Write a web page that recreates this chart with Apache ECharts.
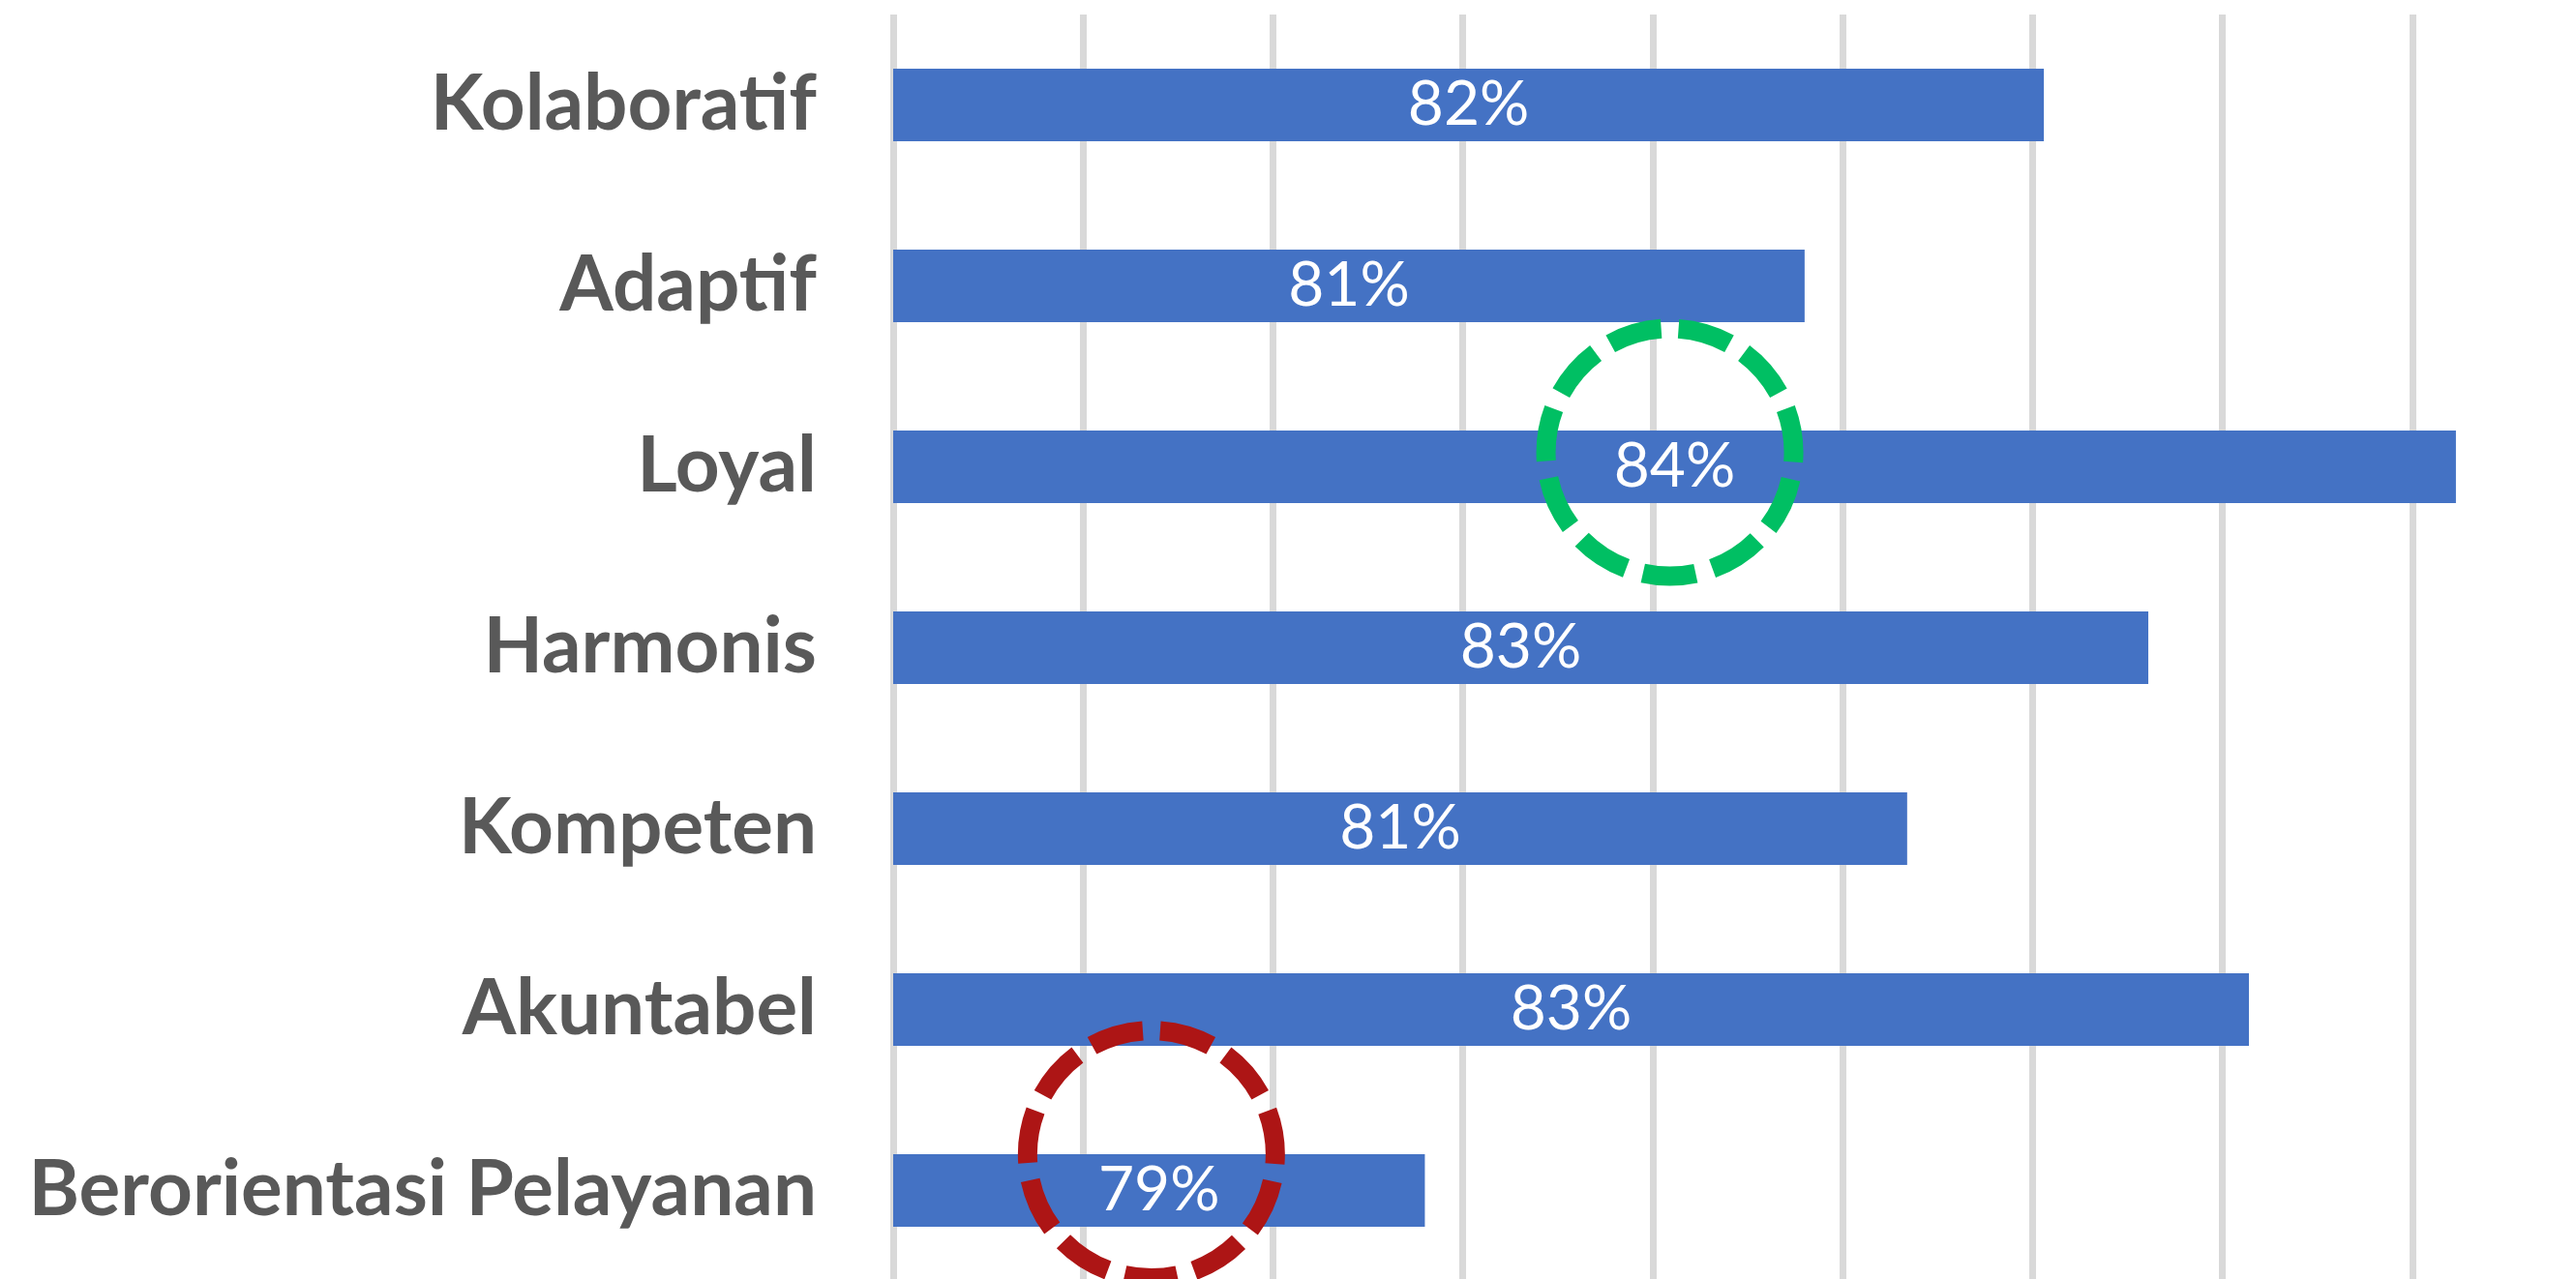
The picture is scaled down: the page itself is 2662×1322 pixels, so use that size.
<!DOCTYPE html>
<html>
<head>
<meta charset="utf-8">
<script src="https://cdn.jsdelivr.net/npm/echarts@6/dist/echarts.min.js"></script>
<style>
    html, body { margin: 0; padding: 0; background: #ffffff; }
    #chart { width: 2662px; height: 1322px; }
</style>
</head>
<body>
<div id="chart"></div>
<script>
// data (top to bottom)
var categories = ['Kolaboratif', 'Adaptif', 'Loyal', 'Harmonis', 'Kompeten', 'Akuntabel', 'Berorientasi Pelayanan'];
var values = [82.06, 80.80, 84.23, 82.61, 81.34, 83.14, 78.80];
var axisMin = 76;
var axisMax = 85;
var axisStep = 1;

// dashed circles drawn over the chart (value on x, category, shift in bands)
var marks = [
    { category: 'Loyal', x: 80.09, shift: -0.08, color: '#00BF63' },
    { category: 'Berorientasi Pelayanan', x: 77.36, shift: -0.2, color: '#AD1515' }
];

var chart = echarts.init(document.getElementById('chart'));

var option = {
    animation: false,
    backgroundColor: '#ffffff',
    grid: {
        left: 923,
        width: 1766,   // last gridline (85) falls off the canvas
        top: 15,
        bottom: -2,
        outerBoundsMode: 'none',
        containLabel: false
    },
    xAxis: {
        type: 'value',
        min: axisMin,
        max: axisMax,
        interval: axisStep,
        axisLine: { show: false },
        axisTick: { show: false },
        axisLabel: { show: false },
        splitLine: {
            show: true,
            lineStyle: {
                color: '#D9D9D9',   // 网格线
                width: 7
            }
        }
    },
    yAxis: {
        type: 'category',
        inverse: true,
        data: categories,
        axisLine: { show: false },
        axisTick: { show: false },
        axisLabel: {
            margin: 79,
            color: '#595959',
            fontFamily: 'Lato',
            fontWeight: 'bold',
            fontSize: 80
        }
    },
    series: [
        {
            type: 'bar',
            barWidth: 75,
            data: values,
            itemStyle: { color: '#4472C4' },
            label: {
                show: true,
                position: 'inside',
                color: '#ffffff',
                fontFamily: 'Lato',
                fontSize: 64,
                formatter: function (p) {
                    return Math.round(p.value) + '%';
                }
            }
        }
    ]
};
chart.setOption(option);

// circles placed through the axes
var y0 = chart.convertToPixel({ yAxisIndex: 0 }, categories[0]);
var y1 = chart.convertToPixel({ yAxisIndex: 0 }, categories[1]);
var band = y1 - y0;
var circles = marks.map(function (m) {
    var cx = chart.convertToPixel({ xAxisIndex: 0 }, m.x);
    var cy = chart.convertToPixel({ yAxisIndex: 0 }, m.category) + m.shift * band;
    return {
        type: 'circle',
        z: 100,
        shape: { cx: cx, cy: cy, r: 128 },
        style: {
            fill: 'none',
            stroke: m.color,
            lineWidth: 20,
            lineDash: [55, 18],
            lineDashOffset: 45
        }
    };
});
chart.setOption({ graphic: circles });
</script>
</body>
</html>
